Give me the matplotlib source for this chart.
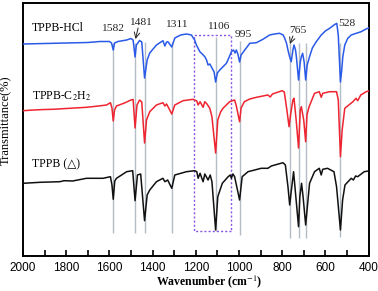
import matplotlib
matplotlib.use("Agg")
import matplotlib.pyplot as plt
from matplotlib.patches import Rectangle
from matplotlib.ticker import MultipleLocator

plt.rcParams['mathtext.fontset'] = 'stix'
serif = ['Liberation Serif', 'DejaVu Serif']

# TPPB-HCl (blue)
wn_hcl = [2000, 1900, 1800, 1700, 1644, 1600, 1590, 1582, 1576, 1560, 1520, 1500, 1490, 1481,
          1475, 1460, 1450, 1437, 1425, 1413, 1382, 1352, 1343, 1335, 1329, 1311, 1297, 1270,
          1243, 1220, 1205, 1197, 1181, 1170, 1158, 1150, 1143, 1135, 1128, 1115, 1108, 1100,
          1089, 1075, 1058, 1045, 1035, 1025, 1018, 1012, 1005, 997, 990, 973, 950, 919, 889,
          858, 835, 812, 795, 788, 780, 773, 765, 758, 750, 745, 738, 734, 724, 716, 711, 705,
          698, 691, 684, 673, 660, 642, 619, 600, 580, 560, 547, 540, 530, 524, 519, 510, 496,
          480, 457, 434, 420, 411, 400]
t_hcl = [212, 212.5, 213, 213.5, 214.5, 214.5, 213, 206, 213, 214.5, 216, 217.5, 216, 199,
         211, 215.5, 214, 178, 196, 203, 211, 215.3, 210, 214, 214.3, 209, 218, 221,
         222, 221, 216, 211, 204.3, 202, 199.3, 196, 191, 192, 189.3, 184, 174, 183,
         186, 189, 192.7, 199, 204.3, 206, 203, 206, 202, 194, 201, 206, 212.7, 213.3, 216.7,
         221, 222, 222.7, 221, 217.7, 213, 206, 199, 194.3, 206, 211, 206, 199.3, 176, 194, 199.3, 202.7,
         194, 176, 191, 199.3, 208, 214.3, 221, 225, 227.7, 231, 232.7, 221, 174, 186, 199.3, 211, 217.7,
         221, 222.7, 224.3, 226, 227, 228]

# TPPB-C2H2 (red)
wn_c2h2 = [2000, 1950, 1900, 1861, 1800, 1706, 1650, 1613, 1595, 1588, 1582, 1576, 1567, 1530,
           1500, 1490, 1481, 1472, 1460, 1450, 1437, 1428, 1413, 1382, 1352, 1343, 1335, 1311,
           1297, 1259, 1212, 1195, 1189, 1180, 1166, 1158, 1148, 1135, 1125, 1108, 1098, 1085,
           1074, 1043, 1020, 1012, 997, 990, 975, 950, 919, 866, 855, 845, 800, 790, 778, 768,
           760, 750, 745, 735, 724, 716, 711, 700, 691, 685, 675, 650, 628, 619, 612, 580, 548,
           540, 530, 522, 510, 472, 458, 450, 436, 411, 400]
t_c2h2 = [145.3, 146, 146.5, 146.7, 147.5, 148.7, 150, 151, 153.3, 148, 135, 146, 150, 153,
          156, 156.5, 128, 151, 156, 154, 113, 136, 144.3, 151, 153.3, 150, 152, 142,
          151, 155.3, 156.7, 155, 151, 154.3, 148.7, 154.3, 152, 147.7, 139.3, 103, 136, 144,
          147.7, 154.3, 156, 150, 134.3, 148, 154.3, 157, 158.7, 161, 159, 162, 165.3, 164, 146, 129.3,
          142.7, 156, 157.7, 136, 108, 146, 149.3, 136, 114.3, 141, 149.3, 162.7, 164.3, 158.7, 162.7, 164.3, 164.3,
          156, 99.3, 126, 147.7, 154.3, 157.7, 155.3, 161, 164.3, 165]

# TPPB (black)
wn_tppb = [2000, 1920, 1829, 1810, 1770, 1706, 1629, 1595, 1588, 1582, 1575, 1567, 1520, 1492,
           1481, 1470, 1455, 1437, 1425, 1413, 1382, 1352, 1343, 1330, 1311, 1297, 1243, 1205,
           1195, 1189, 1180, 1166, 1158, 1143, 1133, 1125, 1108, 1098, 1077, 1050, 1040, 1035,
           1028, 1020, 997, 985, 958, 927, 897, 866, 850, 796, 785, 773, 765, 758, 747, 738,
           724, 718, 710, 703, 691, 673, 650, 628, 619, 612, 590, 560, 548, 530, 520, 509, 480,
           470, 460, 450, 420, 400]
t_tppb = [72.7, 73.7, 74.3, 75.3, 75, 77.7, 77.7, 79.3, 71, 56.7, 75, 77.7, 84.3, 85.3,
          55.3, 81, 82, 35.3, 61, 66, 74.3, 77.7, 74.3, 76, 67.7, 81, 84.3, 85.3,
          84.3, 77.7, 82.7, 74.3, 82, 76, 81, 74.3, 26, 59.3, 72.7, 79.3, 81, 77.7,
          82, 79.3, 56, 79.3, 84.3, 86, 87.7, 87.7, 90, 93.3, 91, 69.3, 51, 64.3, 84.3, 62.7,
          29.3, 59.3, 72.7, 59.3, 31, 72.7, 84.3, 87.7, 81, 86.7, 87.7, 84.3, 69.3, 26, 56, 71, 77.7,
          76, 80, 79.3, 84.3, 85]

# marked bands
peak_wn = [1582, 1481, 1437, 1311, 1108, 997, 765, 724, 691, 530]
peak_top = [213, 213, 214, 214, 219, 215, 213, 213, 213, 213]
peak_bottom = [23, 23, 23, 23, 25, 21, 18, 18, 18, 19]

fig = plt.figure(figsize=(3.78, 2.91), dpi=100)
ax = fig.add_axes([0.0608, 0.1203, 0.9141, 0.8704])

ax.vlines(peak_wn, peak_bottom, peak_top, color='#b4bcc6', lw=1.0, zorder=1)
ax.add_patch(Rectangle((1035, 25), 174, 196, fill=False, ec='#8a55e0', lw=1.0,
                       ls=(0, (1.5, 1.5)), zorder=1))

ax.plot(wn_hcl, t_hcl, color='#2a5ae8', lw=1.1, zorder=3)
ax.plot(wn_c2h2, t_c2h2, color='#ee2530', lw=1.1, zorder=3)
ax.plot(wn_tppb, t_tppb, color='#111111', lw=1.1, zorder=3)

ax.text(1958, 228.5, 'TPPB-HCl', family=serif, fontsize=8.5, va='center', ha='left')
ax.text(1958, 159.5, 'TPPB-C$_2$H$_2$', family=serif, fontsize=8.5, va='center', ha='left')
ax.text(1958, 92, 'TPPB (\u25b3)', family=serif, fontsize=8.5, va='center', ha='left')

labels = ['1582', '1481', '1311', '1106', '995', '765', '528']
label_x = [1586, 1454, 1291, 1096, 981, 727, 500]
label_y = [228, 233.5, 232, 230, 222, 225.5, 233]
for s, lx, ly in zip(labels, label_x, label_y):
    ax.text(lx, ly, s, family=serif, fontsize=8.2, ha='center', va='center', color='#222222')

ax.annotate('', xy=(1479, 217), xytext=(1467, 228),
            arrowprops=dict(arrowstyle='->', color='#222222', lw=0.7, shrinkA=0, shrinkB=0))
ax.annotate('', xy=(764, 212), xytext=(750, 220),
            arrowprops=dict(arrowstyle='->', color='#222222', lw=0.7, shrinkA=0, shrinkB=0))

ax.set_xlim(2000, 400)
ax.set_ylim(0, 253.3)
ax.xaxis.set_major_locator(MultipleLocator(200))
ax.xaxis.set_minor_locator(MultipleLocator(100))
ax.tick_params(axis='x', which='both', direction='in', length=4, width=1.2, top=False,
               labelsize=8.5, pad=4)
ax.tick_params(axis='y', left=False, labelleft=False)
for lab in ax.get_xticklabels():
    lab.set_family('Liberation Sans')
for sp in ax.spines.values():
    sp.set_linewidth(1.4)

ax.set_xlabel('Wavenumber (cm$^{-1}$)', family=serif, fontsize=8.5, fontweight='bold')
ax.xaxis.set_label_coords(0.54, -0.068)
ax.set_ylabel('Transmittance(%)', family=serif, fontsize=9)
ax.yaxis.set_label_coords(-0.032, 0.535)

fig.savefig('out.png', dpi=100)
